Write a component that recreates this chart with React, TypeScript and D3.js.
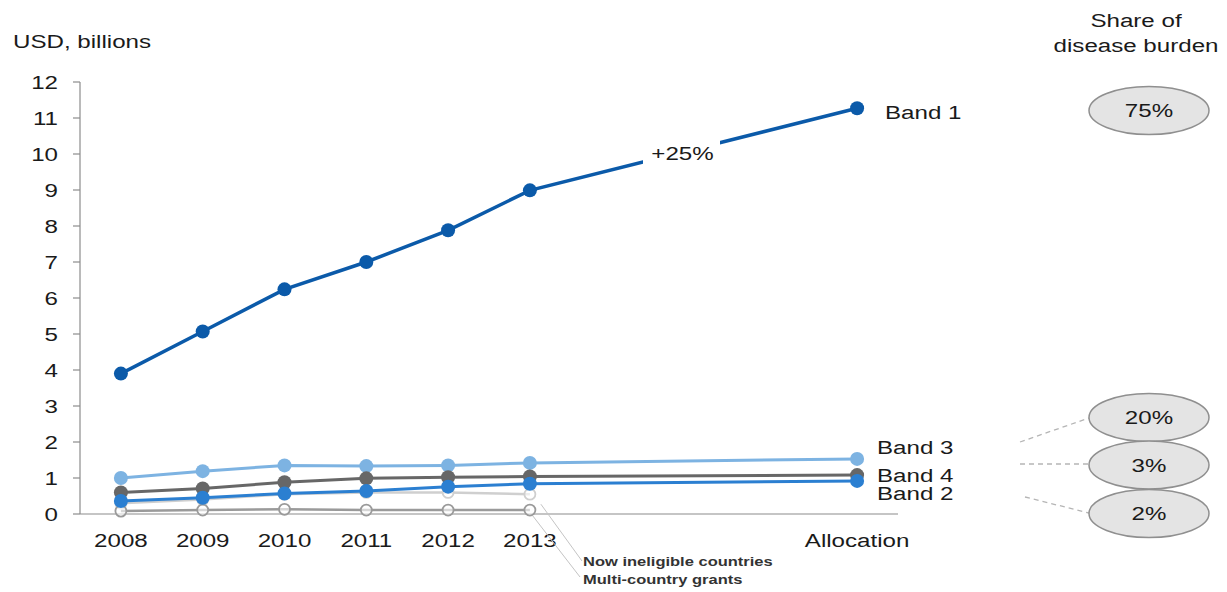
import React from "react";
import * as d3 from "d3";

const categories = ["2008", "2009", "2010", "2011", "2012", "2013", "Allocation"];
const catPos = [0, 1, 2, 3, 4, 5, 9];
const band1 = [3.9, 5.07, 6.24, 7.0, 7.88, 8.99, 11.27];
const band3 = [1.0, 1.19, 1.35, 1.33, 1.35, 1.42, 1.53];
const band4 = [0.6, 0.71, 0.88, 0.99, 1.02, 1.04, 1.08];
const band2 = [0.36, 0.45, 0.57, 0.64, 0.76, 0.84, 0.92];
const nowIneligible = [0.3, 0.4, 0.55, 0.6, 0.6, 0.55];
const multiCountry = [0.08, 0.11, 0.13, 0.11, 0.11, 0.11];
const yTicks = [0, 1, 2, 3, 4, 5, 6, 7, 8, 9, 10, 11, 12];
const shares = ["75%", "20%", "3%", "2%"];

const W = 1227, H = 592;
const FONT = "Liberation Sans, Arial, sans-serif";
const SX = 1.27;

function T(props: { x: number; y: number; size?: number; anchor?: string; weight?: string; fill?: string; children: React.ReactNode }) {
  const { x, y, size = 19, anchor = "start", weight = "normal", fill = "#1a1a1a", children } = props;
  return (
    <text transform={`translate(${x},${y}) scale(${SX},1)`} fontSize={size} textAnchor={anchor as any} fontWeight={weight} fill={fill}>
      {children}
    </text>
  );
}

export default function App() {
  const x = d3.scaleLinear().domain([-0.5, 9.5]).range([80, 898]);
  const y = d3.scaleLinear().domain([0, 12]).range([514, 82]);

  const line = (vals: number[]) =>
    d3.line<number>().x((_, i) => x(catPos[i])).y((v) => y(v))(vals) || "";

  const series = [
    { vals: nowIneligible, color: "#cfcfcf", open: true, w: 2.5, r: 5.5 },
    { vals: multiCountry, color: "#9a9a9a", open: true, w: 2.5, r: 5.5 },
    { vals: band3, color: "#7db3e2", open: false, w: 3, r: 7 },
    { vals: band4, color: "#676767", open: false, w: 3, r: 7 },
    { vals: band2, color: "#2b7fd1", open: false, w: 3, r: 7 },
    { vals: band1, color: "#0b5aa9", open: false, w: 3.5, r: 7 },
  ];

  const bandLabels = [
    { text: "Band 1", v: band1[6], dy: 11, x: 885 },
    { text: "Band 3", v: band3[6], dy: -5, x: 877 },
    { text: "Band 4", v: band4[6], dy: 7, x: 877 },
    { text: "Band 2", v: band2[6], dy: 19, x: 877 },
  ];

  const ellipses = [
    { cy: 110.5, label: shares[0] },
    { cy: 417.5, label: shares[1] },
    { cy: 465, label: shares[2] },
    { cy: 513.5, label: shares[3] },
  ];

  const pctX = (x(5) + x(9)) / 2 - 11;
  const pctY = 160;

  return (
    <svg width={W} height={H} style={{ position: "absolute", left: 0, top: 0, background: "#fff" }} fontFamily={FONT}>
      <rect width={W} height={H} fill="#fff" />
      <T x={13} y={48}>USD, billions</T>
      <T x={1136} y={27} anchor="middle">Share of</T>
      <T x={1136} y={52} anchor="middle">disease burden</T>

      {/* axes */}
      <line x1={x(-0.5)} x2={x(-0.5)} y1={y(12)} y2={y(0)} stroke="#8c8c8c" strokeWidth={1.2} />
      <line x1={x(-0.5)} x2={x(9.5)} y1={y(0)} y2={y(0)} stroke="#8c8c8c" strokeWidth={1.2} />
      {yTicks.map((t) => (
        <g key={t}>
          <line x1={x(-0.5) - 7} x2={x(-0.5)} y1={y(t)} y2={y(t)} stroke="#8c8c8c" strokeWidth={1.2} />
          <T x={58} y={y(t) + 7} anchor="end">{t}</T>
        </g>
      ))}
      {categories.map((c, i) => (
        <T key={c} x={x(catPos[i])} y={547} anchor="middle">{c}</T>
      ))}

      {/* leader lines */}
      <line x1={x(5) + 11} y1={y(nowIneligible[5]) + 10} x2={582} y2={561} stroke="#c4c4c4" strokeWidth={1} />
      <line x1={x(5) + 3} y1={y(multiCountry[5]) + 6} x2={580} y2={577} stroke="#c4c4c4" strokeWidth={1} />
      <T x={583} y={566} size={13} weight="bold" fill="#333">Now ineligible countries</T>
      <T x={583} y={584} size={13} weight="bold" fill="#333">Multi-country grants</T>

      {series.map((s, si) => (
        <g key={si}>
          <path d={line(s.vals)} fill="none" stroke={s.color} strokeWidth={s.w} />
          {s.vals.map((v, i) => (
            <circle key={i} cx={x(catPos[i])} cy={y(v)} r={s.r}
              fill={s.open ? "#fff" : s.color}
              fillOpacity={s.open ? 0.6 : 1}
              stroke={s.color} strokeWidth={s.open ? 1.8 : 0} />
          ))}
        </g>
      ))}

      {/* +25% label */}
      <rect x={643} y={132} width={77} height={36} fill="#fff" />
      <T x={pctX} y={pctY} anchor="middle">+25%</T>

      {bandLabels.map((b) => (
        <T key={b.text} x={b.x} y={y(b.v) + b.dy}>{b.text}</T>
      ))}

      {/* dashed connectors */}
      <line x1={1020} y1={442} x2={1089} y2={418} stroke="#b5b5b5" strokeWidth={1.3} strokeDasharray="5,4" />
      <line x1={1020} y1={464} x2={1089} y2={464} stroke="#b5b5b5" strokeWidth={1.3} strokeDasharray="5,4" />
      <line x1={1025} y1={497} x2={1089} y2={513} stroke="#b5b5b5" strokeWidth={1.3} strokeDasharray="5,4" />

      {ellipses.map((e) => (
        <g key={e.label}>
          <ellipse cx={1149} cy={e.cy} rx={60} ry={24} fill="#e4e4e4" stroke="#8f8f8f" strokeWidth={1.5} />
          <T x={1149} y={e.cy + 6.5} anchor="middle">{e.label}</T>
        </g>
      ))}
    </svg>
  );
}
